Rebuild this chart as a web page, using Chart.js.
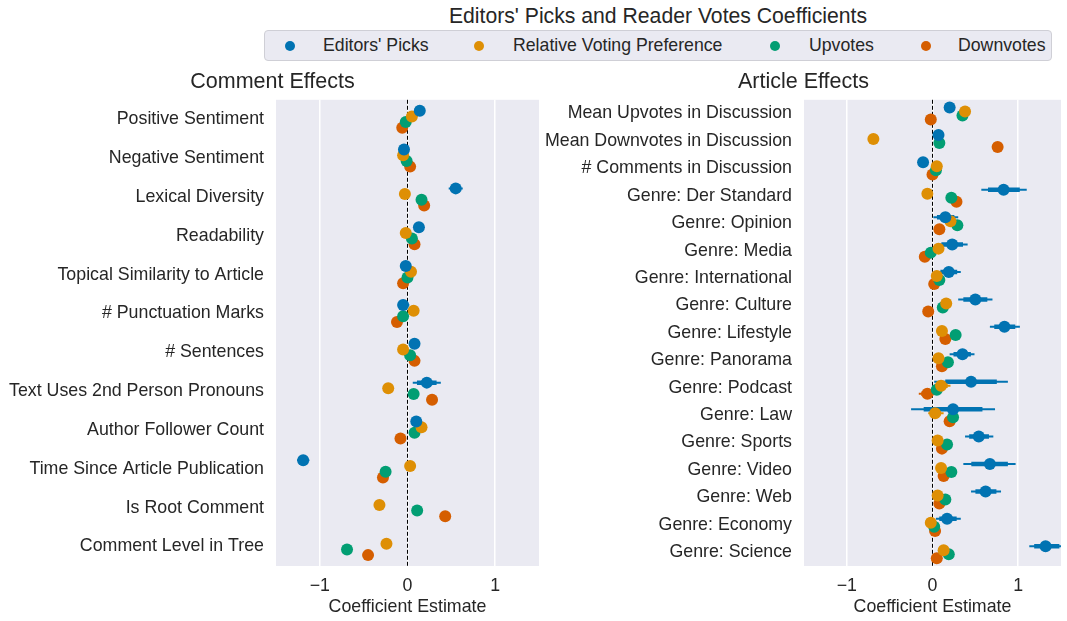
<!DOCTYPE html>
<html>
<head>
<meta charset="utf-8">
<script src="https://cdn.jsdelivr.net/npm/chart.js@4"></script>
<style>
  body { margin: 0; background: #fff; font-family: "Liberation Sans", Arial, sans-serif; color: #262626; }
  #wrap { position: relative; width: 1067px; height: 621px; overflow: hidden; }
  #suptitle { position: absolute; left: 0; width: 1316px; top: 4px; text-align: center; font-size: 21.2px; }
  #legend { position: absolute; left: 264px; top: 30px; width: 788px; height: 31px; background: #EAEAF2;
            border: 1px solid #cfcfd6; border-radius: 4px; box-sizing: border-box; font-size: 17.7px; }
  .item { position: absolute; top: 4px; }
  .dot { position: absolute; top: 10px; width: 10px; height: 10px; border-radius: 50%; }
  canvas { position: absolute; }
</style>
</head>
<body>
<div id="wrap">
  <div id="suptitle">Editors' Picks and Reader Votes Coefficients</div>
  <div id="legend"></div>
  <canvas id="commentChart" style="left:0;top:62px" width="545" height="559"></canvas>
  <canvas id="articleChart" style="left:540px;top:62px" width="527" height="559"></canvas>
</div>
<script>
const seriesNames = ["Editors' Picks", 'Relative Voting Preference', 'Upvotes', 'Downvotes'];
const seriesColors = ['#0173B2', '#DE8F05', '#029E73', '#D55E00'];
const dodge = [-0.22, -0.073, 0.073, 0.22];

// comment effects
const commentLabels = ['Positive Sentiment', 'Negative Sentiment', 'Lexical Diversity', 'Readability',
  'Topical Similarity to Article', '# Punctuation Marks', '# Sentences', 'Text Uses 2nd Person Pronouns',
  'Author Follower Count', 'Time Since Article Publication', 'Is Root Comment', 'Comment Level in Tree'];
const commentEditors = [0.14, -0.04, 0.55, 0.13, -0.02, -0.05, 0.08, 0.22, 0.10, -1.19, null, null];
const commentRelative = [0.05, -0.05, -0.03, -0.02, 0.04, 0.07, -0.05, -0.22, 0.16, 0.03, -0.32, -0.24];
const commentUp = [-0.02, -0.01, 0.16, 0.05, 0.0, -0.05, 0.03, 0.07, 0.08, -0.25, 0.11, -0.69];
const commentDown = [-0.06, 0.03, 0.19, 0.08, -0.05, -0.12, 0.08, 0.28, -0.08, -0.28, 0.43, -0.45];
const commentEditorsCI = [null, null, [0.47, 0.63], [0.10, 0.17], null, [-0.11, 0.02], null,
  [0.06, 0.38], null, [-1.26, -1.12], null, null];

// article effects
const articleLabels = ['Mean Upvotes in Discussion', 'Mean Downvotes in Discussion', '# Comments in Discussion',
  'Genre: Der Standard', 'Genre: Opinion', 'Genre: Media', 'Genre: International', 'Genre: Culture',
  'Genre: Lifestyle', 'Genre: Panorama', 'Genre: Podcast', 'Genre: Law', 'Genre: Sports', 'Genre: Video',
  'Genre: Web', 'Genre: Economy', 'Genre: Science'];
const articleEditors = [0.20, 0.07, -0.11, 0.83, 0.15, 0.23, 0.19, 0.50, 0.84, 0.35, 0.45, 0.24, 0.54, 0.67, 0.62, 0.17, 1.32];
const articleRelative = [0.38, -0.69, 0.05, -0.06, 0.21, 0.07, 0.05, 0.16, 0.11, 0.07, 0.10, 0.03, 0.06, 0.10, 0.06, -0.02, 0.13];
const articleUp = [0.35, 0.08, 0.04, 0.22, 0.29, -0.02, 0.08, 0.12, 0.27, 0.18, 0.05, 0.24, 0.17, 0.22, 0.15, 0.02, 0.19];
const articleDown = [-0.02, 0.76, 0.0, 0.28, 0.08, -0.09, 0.02, -0.05, 0.15, 0.11, -0.06, 0.20, 0.11, 0.13, 0.08, 0.03, 0.05];
const articleEditorsCI = [null, null, null, [0.57, 1.10], [0.01, 0.30], [0.05, 0.41], [0.05, 0.33], [0.30, 0.70],
  [0.67, 1.02], [0.20, 0.49], [0.02, 0.88], [-0.25, 0.73], [0.38, 0.71], [0.36, 0.97], [0.45, 0.80], [0.04, 0.33], [1.13, 1.55]];
const articleRelativeCI = [null, null, null, [-0.10, -0.02], null, null, null, null, null, null,
  [0.01, 0.21], [-0.05, 0.13], null, [0.05, 0.15], null, null, null];
const articleDownCI = [null, null, null, null, null, null, null, null, null, null,
  [-0.16, 0.04], null, null, null, null, null, null];

// legend
const legendDots = [289, 478, 774, 925];
const legendText = [322, 512, 808, 957];
const legendEl = document.getElementById('legend');
seriesNames.forEach((name, i) => {
  const d = document.createElement('div');
  d.className = 'dot';
  d.style.left = (legendDots[i] - 264 - 5) + 'px';
  d.style.background = seriesColors[i];
  legendEl.appendChild(d);
  const t = document.createElement('div');
  t.className = 'item';
  t.style.left = (legendText[i] - 264) + 'px';
  t.textContent = name;
  legendEl.appendChild(t);
});

const panelPlugin = {
  id: 'panel',
  beforeDraw(chart) {
    const a = chart.chartArea;
    const ctx = chart.ctx;
    ctx.save();
    ctx.fillStyle = '#EAEAF2';
    ctx.fillRect(a.left, a.top, a.right - a.left, a.bottom - a.top);
    ctx.restore();
  },
  beforeDatasetsDraw(chart) {
    const a = chart.chartArea;
    const ctx = chart.ctx;
    const xs = chart.scales.x;
    const ys = chart.scales.y;
    ctx.save();
    // zero line
    const x0 = xs.getPixelForValue(0);
    ctx.strokeStyle = '#000';
    ctx.lineWidth = 1;
    ctx.setLineDash([4, 2]);
    ctx.beginPath();
    ctx.moveTo(x0, a.top);
    ctx.lineTo(x0, a.bottom);
    ctx.stroke();
    ctx.setLineDash([]);
    // error bars
    ctx.beginPath();
    ctx.rect(a.left, a.top, a.right - a.left, a.bottom - a.top);
    ctx.clip();
    chart.data.datasets.forEach((ds, s) => {
      if (!ds.ci) return;
      ctx.strokeStyle = ds.backgroundColor;
      ds.ci.forEach((ci, i) => {
        if (!ci) return;
        const v = ds.values[i];
        const y = ys.getPixelForValue(i + dodge[s]);
        ctx.lineWidth = 2;
        ctx.beginPath();
        ctx.moveTo(xs.getPixelForValue(ci[0]), y);
        ctx.lineTo(xs.getPixelForValue(ci[1]), y);
        ctx.stroke();
        ctx.lineWidth = 4.5;
        ctx.beginPath();
        ctx.moveTo(xs.getPixelForValue(v - 0.7 * (v - ci[0])), y);
        ctx.lineTo(xs.getPixelForValue(v + 0.7 * (ci[1] - v)), y);
        ctx.stroke();
      });
    });
    ctx.restore();
  }
};

const font = { family: 'Liberation Sans', size: 17.8, weight: 'normal' };

function makeChart(el, title, labels, series, cis, axisWidth) {
  const datasets = series.map((vals, s) => ({
    label: seriesNames[s],
    values: vals,
    ci: cis[s],
    data: vals.map((v, i) => (v == null ? null : { x: v, y: i + dodge[s] })).filter(p => p),
    backgroundColor: seriesColors[s],
    borderColor: seriesColors[s],
    pointRadius: 6,
    pointBorderWidth: 0,
  }));
  return new Chart(document.getElementById(el), {
    type: 'scatter',
    data: { datasets: datasets },
    options: {
      responsive: false,
      animation: false,
      layout: { padding: 0 },
      plugins: {
        legend: { display: false },
        tooltip: { enabled: false },
        title: {
          display: true,
          text: title,
          color: '#262626',
          font: { family: 'Liberation Sans', size: 21.5, weight: 'normal' },
          padding: { top: 7, bottom: 5 },
        },
      },
      scales: {
        x: {
          type: 'linear',
          min: -1.5,
          max: 1.5,
          afterBuildTicks: sc => { sc.ticks = [-1, 0, 1].map(v => ({ value: v })); },
          afterFit: sc => { sc.height = 55; },
          ticks: {
            color: '#262626',
            font: font,
            padding: 9,
            callback: v => (v < 0 ? '\u2212' + Math.abs(v) : String(v)),
          },
          grid: { color: '#ffffff', lineWidth: 1.5, drawTicks: false },
          border: { display: false },
          title: {
            display: true,
            text: 'Coefficient Estimate',
            color: '#262626',
            font: font,
            padding: { top: 2, bottom: 3 },
          },
        },
        y: {
          type: 'linear',
          reverse: true,
          min: -0.5,
          max: labels.length - 0.5,
          afterBuildTicks: sc => { sc.ticks = labels.map((_, i) => ({ value: i })); },
          afterFit: sc => { sc.width = axisWidth; },
          ticks: {
            color: '#262626',
            font: font,
            padding: 12,
            autoSkip: false,
            callback: v => labels[v],
          },
          grid: { display: false, drawTicks: false },
          border: { display: false },
        },
      },
    },
    plugins: [panelPlugin],
  });
}

makeChart('commentChart', 'Comment Effects', commentLabels,
  [commentEditors, commentRelative, commentUp, commentDown],
  [commentEditorsCI, null, null, null], 276);

makeChart('articleChart', 'Article Effects', articleLabels,
  [articleEditors, articleRelative, articleUp, articleDown],
  [articleEditorsCI, articleRelativeCI, null, articleDownCI], 264);
</script>
</body>
</html>
